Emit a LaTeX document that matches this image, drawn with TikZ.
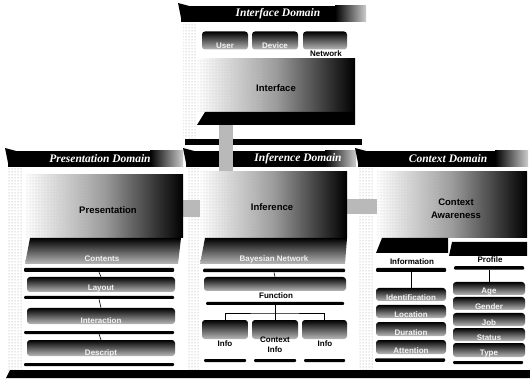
\documentclass[tikz,border=0pt]{standalone}
\usepackage{fontspec}
\setmainfont{Liberation Serif}
\setsansfont{Liberation Sans}
\usetikzlibrary{patterns}
\begin{document}
\begin{tikzpicture}[x=1pt,y=-1pt,
  hdr/.style={fill=black},
  htxt/.style={text=white, font=\rmfamily\bfseries\itshape\fontsize{11.5}{12}\selectfont, inner sep=0},
  face/.style={left color=white, right color=black, middle color=gray!78},
  fdots/.style={pattern=dots, pattern color=gray!45},
  slab/.style={top color=black, bottom color=gray!55},
  ibar/.style={rounded corners=3pt, top color=black, bottom color=gray!55, inner sep=0},
  tbar/.style={fill=black, inner sep=0, rounded corners=1pt},
  ltxt/.style={text=gray!10, font=\sffamily\bfseries\fontsize{8}{9}\selectfont, inner sep=0},
  btxt/.style={text=black, font=\sffamily\bfseries\fontsize{8}{9}\selectfont, inner sep=0},
  bigtxt/.style={text=black, font=\sffamily\bfseries\fontsize{9.5}{11}\selectfont, inner sep=0},
  pipe/.style={fill=gray!55},
  dstrip/.style={pattern=dots, pattern color=gray!80},
  conn/.style={draw=black, line width=0.6pt}]
\useasboundingbox (0,0) rectangle (530,379);
\fill[white] (0,0) rectangle (530,379);

% ---------- dotted side strips ----------
\fill[dstrip] (183,22) rectangle (196,139);
\fill[dstrip] (8,167) rectangle (22,370);
\fill[dstrip] (188,167) rectangle (199,370);
\fill[dstrip] (358,167) rectangle (373,370);

% ---------- headers ----------
\fill[hdr] (181,6) rectangle (335,22);
\shade[left color=black, right color=gray!40] (335,6) rectangle (366,22);
\fill[hdr] (178,3) -- (193,7) -- (181,18) -- cycle;
\node[htxt] (hint) at (278,14) {Interface Domain};

\fill[hdr] (8,151) rectangle (150,167);
\shade[left color=black, right color=gray!40] (150,151) rectangle (183,167);
\fill[hdr] (5,148) -- (20,152) -- (8,163) -- cycle;
\node[htxt] (hpre) at (100,159) {Presentation Domain};

\fill[hdr] (186,151) rectangle (325,167);
\shade[left color=black, right color=gray!40] (325,151) rectangle (356,167);
\fill[hdr] (183,148) -- (198,152) -- (186,163) -- cycle;
\node[htxt] (hinf) at (298,159) {Inference Domain};

\fill[hdr] (358,151) rectangle (495,167);
\shade[left color=black, right color=gray!40] (495,151) rectangle (528,167);
\fill[hdr] (355,148) -- (370,152) -- (358,163) -- cycle;
\node[htxt] (hctx) at (448,159) {Context Domain};

% ---------- interface panel ----------
\node[ibar, minimum width=46pt, minimum height=18pt] (us) at (225,40.5) {};
\node[ibar, minimum width=46pt, minimum height=18pt] (de) at (275,40.5) {};
\node[ibar, minimum width=44pt, minimum height=18pt] (ne) at (325,40.5) {};
\node[ltxt] (tus) at (225,46) {User};
\node[ltxt] (tde) at (275,46) {Device};
\node[btxt] (tne) at (326,54) {Network};

\fill[black] (185,139) rectangle (362,145);

% ---------- pipes ----------
\fill[pipe] (219,116) rectangle (233,176);
\fill[pipe] (181,200) rectangle (202,217);
\fill[pipe] (346,199) rectangle (379,214);

% interface block
\shade[face] (197,59) rectangle (355,112);
\fill[fdots] (197,59) rectangle (262,112);
\fill[black] (205,112) -- (355,112) -- (355,125) -- (197,125) -- cycle;
\node[bigtxt] (tif) at (276,88) {Interface};

% ---------- presentation panel ----------
\shade[face] (25,175) rectangle (183,238);
\fill[fdots] (25,175) rectangle (90,238);
\node[bigtxt] (tpr) at (108,210) {Presentation};
\shade[slab] (30,238) -- (181,238) -- (178,264) -- (25,264) -- cycle;
\node[ltxt] (tpc) at (102,259) {Contents};
\node[tbar, minimum width=150pt, minimum height=4pt] (pct) at (99,270) {};
\node[ibar, minimum width=148pt, minimum height=15pt] (pl) at (101,284.5) {};
\node[ltxt] (tpl) at (101,289) {Layout};
\node[tbar, minimum width=150pt, minimum height=3pt] (plt) at (99,297.5) {};
\node[ibar, minimum width=148pt, minimum height=16pt] (pi) at (101,316) {};
\node[ltxt] (tpi) at (101,321) {Interaction};
\node[tbar, minimum width=150pt, minimum height=3pt] (pit) at (99,332.5) {};
\node[ibar, minimum width=148pt, minimum height=16pt] (pd) at (101,348) {};
\node[ltxt] (tpd) at (101,353) {Descript};
\node[tbar, minimum width=150pt, minimum height=3pt] (pdt) at (99,364.5) {};
\draw[conn] (pct.south) -- (pl.north);
\draw[conn] (plt.south) -- (pi.north);
\draw[conn] (pit.south) -- (pd.north);

% ---------- inference panel ----------
\shade[face] (200,172) rectangle (347,238);
\fill[fdots] (200,172) rectangle (260,238);
\node[bigtxt] (tin) at (272,207) {Inference};
\shade[slab] (205,238) -- (347,238) -- (345,264) -- (200,264) -- cycle;
\node[ltxt] (tbn) at (274,259) {Bayesian Network};
\node[tbar, minimum width=142pt, minimum height=3.5pt] (bnt) at (274,270.5) {};
\node[ibar, minimum width=142pt, minimum height=14pt] (fn) at (275,284) {};
\node[btxt] (tfn) at (276,296) {Function};
\node[tbar, minimum width=138pt, minimum height=3pt] (fnt) at (275,303.5) {};
\draw[conn] (bnt.south) -- (fn.north);
\node[ibar, minimum width=46pt, minimum height=19pt] (b1) at (225,329.5) {};
\node[ibar, minimum width=46pt, minimum height=19pt] (b2) at (275,329.5) {};
\node[ibar, minimum width=45pt, minimum height=19pt] (b3) at (324.5,329.5) {};
\coordinate (fj) at (275,313);
\draw[conn] (fnt.south) -- (fj);
\draw[conn] (b1.north) |- (fj) -| (b3.north);
\draw[conn] (fj) -- (b2.north);
\node[btxt] (tb1) at (225,344) {Info};
\node[btxt] (tb2a) at (275,340) {Context};
\node[btxt] (tb2b) at (275,350) {Info};
\node[btxt] (tb3) at (325,344) {Info};
\node[tbar, minimum width=42pt, minimum height=3pt] (u1) at (225,360.5) {};
\node[tbar, minimum width=42pt, minimum height=3pt] (u2) at (275,360.5) {};
\node[tbar, minimum width=41pt, minimum height=3pt] (u3) at (324.5,360.5) {};

% ---------- context panel ----------
\shade[face] (377,172) rectangle (527,238);
\fill[fdots] (377,172) rectangle (440,238);
\node[bigtxt] (tca) at (456,202) {Context};
\node[bigtxt] (tcb) at (456,215) {Awareness};
\fill[black] (382,238) -- (448,238) -- (448,253) -- (376,253) -- cycle;
\fill[black] (452,242) -- (527,242) -- (527,256) -- (449,256) -- cycle;
\node[btxt] (tinfo) at (412,262) {Information};
\node[btxt] (tprof) at (490,260) {Profile};
\node[tbar, minimum width=70pt, minimum height=4pt] (cit) at (411,270) {};
\node[tbar, minimum width=70pt, minimum height=3.5pt] (cpt) at (489,268) {};

\node[ibar, minimum width=70pt, minimum height=13pt] (id) at (411,294.5) {};
\node[ltxt] (tid) at (411,298) {Identification};
\node[ibar, minimum width=70pt, minimum height=13pt] (lo) at (411,311.5) {};
\node[ltxt] (tlo) at (411,315) {Location};
\node[ibar, minimum width=70pt, minimum height=14pt] (du) at (411,329) {};
\node[ltxt] (tdu) at (411,333) {Duration};
\node[ibar, minimum width=70pt, minimum height=14pt] (at) at (411,347) {};
\node[ltxt] (tat) at (411,351) {Attention};
\node[tbar, minimum width=70pt, minimum height=3.5pt] (att) at (410,360) {};
\draw[conn] (cit.south) -- (id.north);

\node[ibar, minimum width=72pt, minimum height=13pt] (ag) at (489,288.5) {};
\node[ltxt] (tag) at (489,292) {Age};
\node[ibar, minimum width=72pt, minimum height=13pt] (ge) at (489,303.5) {};
\node[ltxt] (tge) at (489,307) {Gender};
\node[ibar, minimum width=72pt, minimum height=13pt] (jo) at (489,319.5) {};
\node[ltxt] (tjo) at (489,323) {Job};
\node[ibar, minimum width=72pt, minimum height=13pt] (st) at (489,334.5) {};
\node[ltxt] (tst) at (489,338) {Status};
\node[ibar, minimum width=72pt, minimum height=14pt] (ty) at (489,350) {};
\node[ltxt] (tty) at (489,354) {Type};
\node[tbar, minimum width=70pt, minimum height=3pt] (tyt) at (488,362.5) {};
\draw[conn] (cpt.south) -- (ag.north);

% ---------- bottom bar ----------
\fill[black] (10,370) -- (530,370) -- (530,378) -- (6,378) -- cycle;
\end{tikzpicture}
\end{document}
